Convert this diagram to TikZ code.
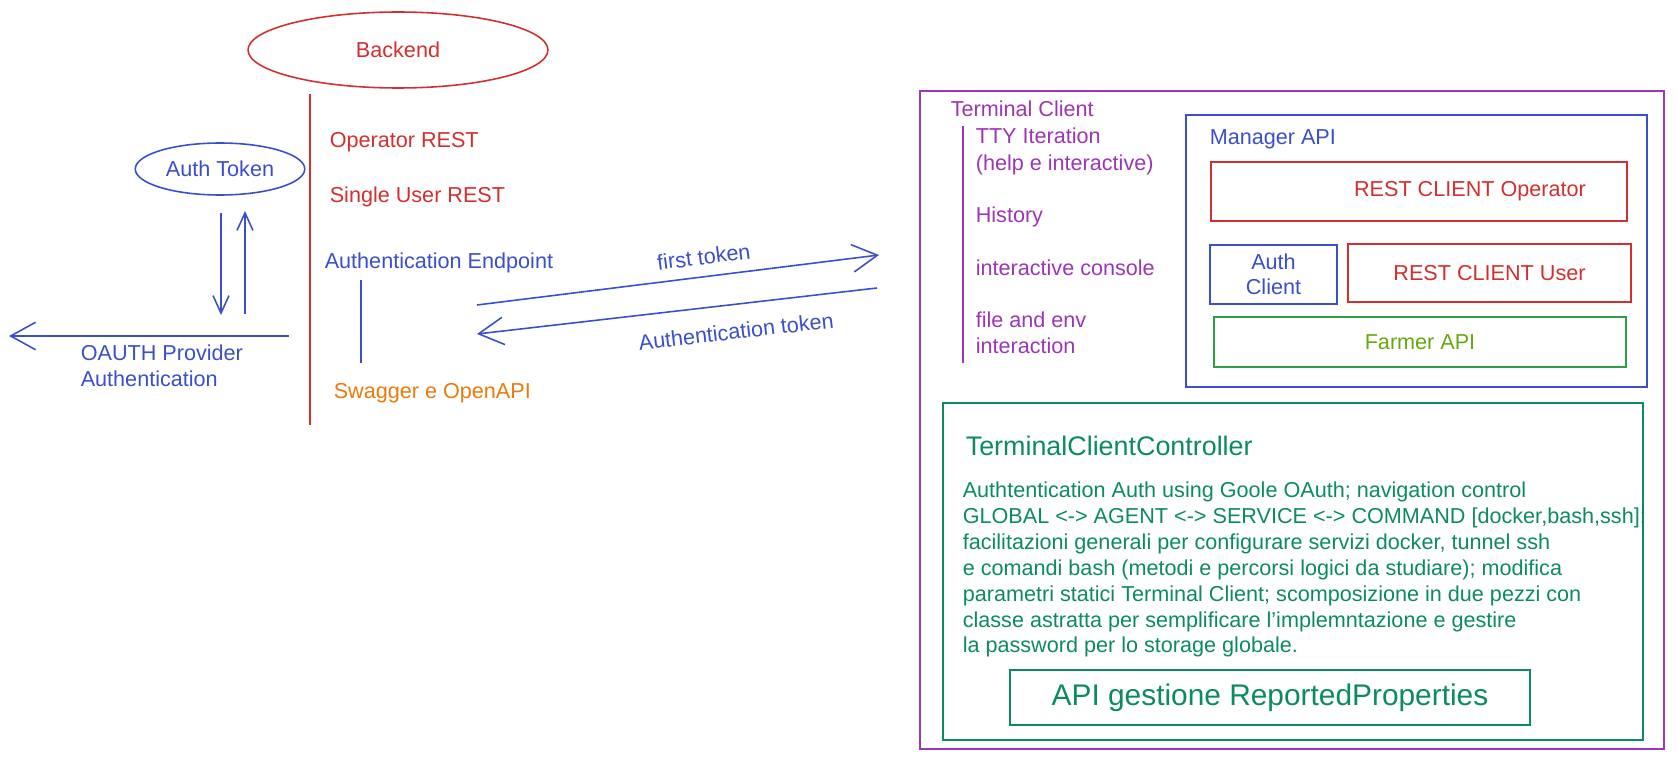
\documentclass[tikz,border=0pt]{standalone}
\usepackage{fontspec}
\setmainfont{Liberation Sans}
\usepackage{xcolor}
\usetikzlibrary{calc, positioning}
\usetikzlibrary{arrows.meta}
\usetikzlibrary{shapes.geometric}

\definecolor{bkred}{HTML}{D32F2F}
\definecolor{authblue}{HTML}{3B4FCC}
\definecolor{termpurple}{HTML}{9C36B5}
\definecolor{swagorange}{HTML}{EC7A0A}
\definecolor{farmgreen}{HTML}{2F9E44}
\definecolor{farmtext}{HTML}{66A80F}
\definecolor{ctrlteal}{HTML}{0C8C5E}

\begin{document}
\begin{tikzpicture}[x=0.02cm, y=-0.02cm, line width=0.9pt,
  font=\fontsize{12.3}{14.8}\selectfont,
  barb/.style={-{Straight Barb[length=5mm, width=5.5mm]}},
  smallbarb/.style={-{Straight Barb[length=3.5mm, width=3.2mm]}},
  box/.style={draw, rectangle, inner sep=0pt},
  txt/.style={anchor=west, inner sep=0pt, align=left}]

\useasboundingbox (0,0) rectangle (1676,760);

% backend column
\node[ellipse, draw=bkred, text=bkred, minimum width=6cm, minimum height=1.52cm] (backend) at (398,50) {Backend};
\coordinate (btop) at (310,94);
\coordinate (bbot) at (310,425);
\draw[bkred] (btop) -- (bbot);

\node[txt, text=bkred] (oprest) at (329,142) {Operator REST};
\node[txt, text=bkred] (userrest) at (329,197) {Single User REST};
\node[txt, text=authblue] (authep) at (324,263) {Authentication Endpoint};
\node[txt, text=swagorange] (swagger) at (333,393) {Swagger e OpenAPI};
\coordinate (eptop) at (361,280);
\coordinate (epbot) at (361,363);
\draw[authblue] (eptop) -- (epbot);

% auth token and oauth
\node[ellipse, draw=authblue, text=authblue, minimum width=3.32cm, minimum height=1.04cm] (authtoken) at (220,169) {Auth Token};
\coordinate (downa) at (221,213);
\coordinate (downb) at (221,315);
\coordinate (upa) at (245,314);
\coordinate (upb) at (245,211);
\draw[authblue, smallbarb] (downa) -- (downb);
\draw[authblue, smallbarb] (upa) -- (upb);

\coordinate (oauthstart) at (289,336);
\coordinate (oauthend) at (9,336);
\draw[authblue, barb] (oauthstart) -- (oauthend);
\node[txt, anchor=north west, text=authblue] (oauth) at (80,344) {OAUTH Provider\\Authentication};

% token exchange
\coordinate (ftstart) at (477,305);
\coordinate (ftend) at (879,255);
\draw[authblue, barb] (ftstart) -- node[above=3pt, sloped, pos=0.57, text=authblue] (ftlabel) {first token} (ftend);
\coordinate (atstart) at (877,288);
\coordinate (atend) at (477,334);
\draw[authblue, barb] (atstart) -- node[below=7pt, sloped, pos=0.36, text=authblue] (atlabel) {Authentication token} (atend);

% terminal client
\draw[termpurple] (920,91) rectangle (1664,749);
\node[txt, text=termpurple] (termclient) at (950,109) {Terminal Client};
\coordinate (ltop) at (963,126);
\coordinate (lbot) at (963,363);
\draw[termpurple] (ltop) -- (lbot);
\node[txt, text=termpurple, font=\fontsize{12.3}{15.3}\selectfont] (tty) at (975,151.5) {TTY Iteration\\(help e interactive)};
\node[txt, text=termpurple] (history) at (975,217) {History};
\node[txt, text=termpurple] (console) at (975,268) {interactive console};
\node[txt, text=termpurple, font=\fontsize{12.3}{15}\selectfont] (fileenv) at (975,333) {file and env\\interaction};

% manager api
\draw[authblue] (1186,115) rectangle (1647,387);
\node[txt, text=authblue] (manager) at (1209,139) {Manager API};
\node[box, draw=bkred, minimum width=8.32cm, minimum height=1.18cm,
  label={[text=bkred, xshift=1.02cm]center:REST CLIENT Operator}] (restop) at (1419,191.5) {};
\node[box, draw=authblue, text=authblue, align=center, minimum width=2.54cm, minimum height=1.18cm,
  font=\fontsize{12.3}{14.5}\selectfont] (authclient) at (1273.5,274.5) {Auth\\Client};
\node[box, draw=bkred, text=bkred, minimum width=5.66cm, minimum height=1.16cm] (restuser) at (1489.5,273) {REST CLIENT User};
\node[box, draw=farmgreen, text=farmtext, minimum width=8.24cm, minimum height=1cm] (farmer) at (1420,342) {Farmer API};

% controller
\draw[ctrlteal] (943,403) rectangle (1643,740);
\node[txt, text=ctrlteal, font=\fontsize{15.3}{18}\selectfont] (ctrltitle) at (965,446) {TerminalClientController};
\node[txt, anchor=north west, text=ctrlteal, font=\fontsize{12.3}{14.75}\selectfont] (ctrltext) at (962,481) {Authtentication Auth using Goole OAuth; navigation control\\
GLOBAL <-> AGENT <-> SERVICE <-> COMMAND [docker,bash,ssh];\\
facilitazioni generali per configurare servizi docker, tunnel ssh\\
e comandi bash (metodi e percorsi logici da studiare); modifica\\
parametri statici Terminal Client; scomposizione in due pezzi con\\
classe astratta per semplificare l'implemntazione e gestire\\
la password per lo storage globale.};
\node[box, draw=ctrlteal, text=ctrlteal, minimum width=10.4cm, minimum height=1.1cm,
  font=\fontsize{17}{20}\selectfont] (reported) at (1270,697.5) {API gestione ReportedProperties};

\end{tikzpicture}
\end{document}
